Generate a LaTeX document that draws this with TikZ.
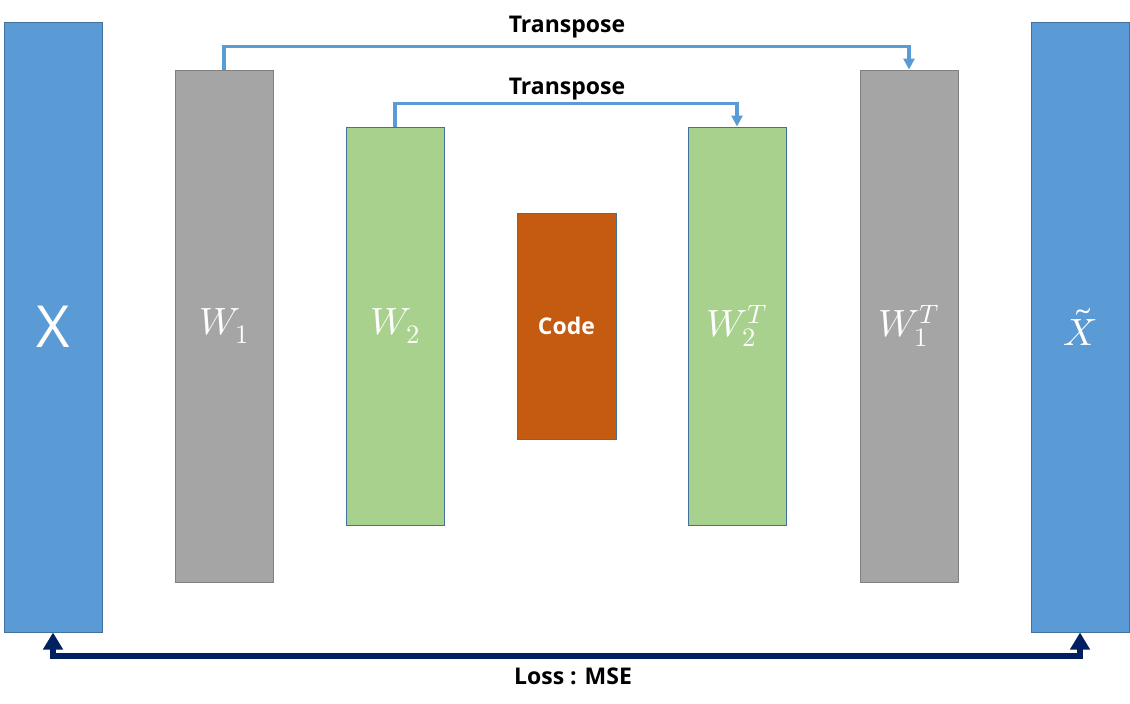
\documentclass[tikz,border=0pt]{standalone}
\usepackage{fontspec}
\usepackage{unicode-math}
\setmathfont{Latin Modern Math}
\setsansfont{Open Sans}
\usetikzlibrary{arrows.meta}
\definecolor{xblue}{HTML}{5B9BD5}
\definecolor{xborder}{HTML}{41719C}
\definecolor{wgray}{HTML}{A5A5A5}
\definecolor{gborder}{HTML}{7F7F7F}
\definecolor{wgreen}{HTML}{A9D18E}
\definecolor{corange}{HTML}{C55A11}
\definecolor{navy}{HTML}{002060}
\tikzset{
  bar/.style={draw=xborder, line width=1pt, inner sep=0pt, minimum width=98pt, text=white},
  inbar/.style={bar, fill=xblue},
  graybar/.style={bar, fill=wgray, draw=gborder},
  greenbar/.style={bar, fill=wgreen},
  codebar/.style={bar, fill=corange},
  tr/.style={draw=xblue, line width=3.5pt, -{Triangle[width=11pt,length=11pt]}},
  loss/.style={draw=navy, line width=6pt, {Triangle[width=19pt,length=17pt]}-{Triangle[width=19pt,length=17pt]}},
  lbl/.style={font=\sffamily\bfseries\fontsize{23}{26}\selectfont, text=black, inner sep=0pt, anchor=base},
  mathlbl/.style={font=\fontsize{38}{40}\selectfont}
}
\begin{document}
\begin{tikzpicture}[x=1pt,y=-1pt]
\useasboundingbox (0,0) rectangle (1130,704);
\node[inbar, minimum height=610pt, font=\sffamily\fontsize{58}{60}\selectfont] (X) at (53,327) {X};
\node[graybar, minimum height=512pt, mathlbl] (W1) at (224,326) {$W_1$};
\node[greenbar, minimum height=398pt, mathlbl] (W2) at (395,326) {$W_2$};
\node[codebar, minimum height=226pt, minimum width=99pt, font=\sffamily\bfseries\fontsize{23}{25}\selectfont] (C) at (566.5,326) {Code};
\node[greenbar, minimum height=398pt, mathlbl] (W2T) at (737,326) {$W_2^T$};
\node[graybar, minimum height=512pt, mathlbl] (W1T) at (909,326) {$W_1^T$};
\node[inbar, minimum height=610pt, mathlbl] (Xt) at (1080,327) {$\tilde{X}$};
\draw[tr] (W1.north) -- ++(0,-23) -| (W1T.north);
\draw[tr] (W2.north) -- ++(0,-23) -| (W2T.north);
\node[lbl] (t1) at (567,32) {Transpose};
\node[lbl] (t2) at (567,94) {Transpose};
\draw[loss] (X.south) -- ++(0,23) -| (Xt.south);
\node[lbl] (L) at (573,684) {Loss : MSE};
\end{tikzpicture}
\end{document}
